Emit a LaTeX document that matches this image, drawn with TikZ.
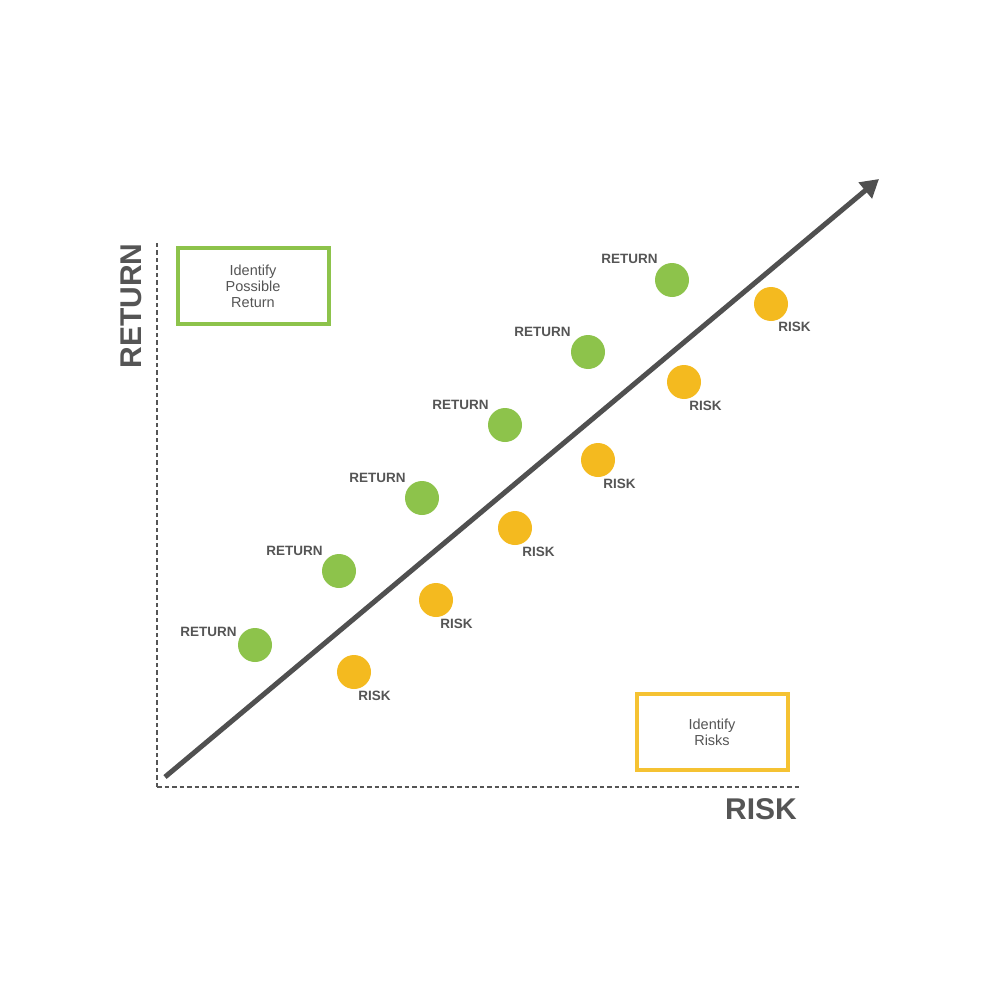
\documentclass[tikz,border=0pt]{standalone}
\usepackage{fontspec}
\setmainfont{Liberation Sans}
\usepackage{tikz}
\usetikzlibrary{positioning,arrows.meta}
\definecolor{ink}{HTML}{555555}
\definecolor{line}{HTML}{505050}
\definecolor{leaf}{HTML}{8DC34B}
\definecolor{gold}{HTML}{F4BA1F}
\definecolor{goldBox}{HTML}{F5C232}
\tikzset{
  axis/.style={dashed, dash pattern=on 4.5pt off 3pt, line width=1.4pt, draw=ink},
  axislabel/.style={font=\fontsize{30}{32}\selectfont\bfseries, text=ink, inner sep=0pt},
  goal/.style={rectangle, line width=4pt, minimum width=151pt, minimum height=76pt,
               align=center, font=\fontsize{14.5}{16}\selectfont, text=ink},
  retdot/.style={circle, fill=leaf, minimum size=34pt, inner sep=0pt},
  riskdot/.style={circle, fill=gold, minimum size=34pt, inner sep=0pt},
  tag/.style={font=\fontsize{13.5}{14}\selectfont\bfseries, text=ink, inner sep=0pt},
  trend/.style={-{Triangle[length=18pt, width=20pt]}, line width=5pt, draw=line}
}
\begin{document}
\begin{tikzpicture}[x=1pt, y=-1pt]
\useasboundingbox (0,0) rectangle (1000,1000);
% axes
\coordinate (origin) at (157,787);
\coordinate (ytop) at (157,243);
\coordinate (xend) at (800,787);
\draw[axis] (origin) -- (ytop);
\draw[axis] (origin) -- (xend);
\node[axislabel, rotate=90] (returnaxis) at (131,306) {RETURN};
\node[axislabel] (riskaxis) at (761,809) {RISK};
% goal boxes
\node[goal, draw=leaf] (possible) at (253,286) {Identify\\Possible\\Return};
\node[goal, draw=goldBox] (risks) at (712,732) {Identify\\Risks};
% trend line
\coordinate (start) at (165,777);
\coordinate (tip) at (879,179);
\draw[trend] (start) -- (tip);
% return dots
\node[retdot] (g1) at (255,645) {};
\node[retdot] (g2) at (339,571) {};
\node[retdot] (g3) at (422,498) {};
\node[retdot] (g4) at (505,425) {};
\node[retdot] (g5) at (588,352) {};
\node[retdot] (g6) at (672,280) {};
\node[tag, above left=-4pt and 6pt of g1] (gt1) {RETURN};
\node[tag, above left=3pt and 4pt of g2] (gt2) {RETURN};
\node[tag, above left=3pt and 4pt of g3] (gt3) {RETURN};
\node[tag, above left=3pt and 4pt of g4] (gt4) {RETURN};
\node[tag, above left=3pt and 5pt of g5] (gt5) {RETURN};
\node[tag, above left=4pt and 2pt of g6] (gt6) {RETURN};
% risk dots
\node[riskdot] (y1) at (354,672) {};
\node[riskdot] (y2) at (436,600) {};
\node[riskdot] (y3) at (515,528) {};
\node[riskdot] (y4) at (598,460) {};
\node[riskdot] (y5) at (684,382) {};
\node[riskdot] (y6) at (771,304) {};
\node[tag, below right=7pt and -8pt of y1] (yt1) {RISK};
\node[tag, below right=7pt and -8pt of y2] (yt2) {RISK};
\node[tag, below right=7pt and -5pt of y3] (yt3) {RISK};
\node[tag, below right=7pt and -7pt of y4] (yt4) {RISK};
\node[tag, below right=7pt and -7pt of y5] (yt5) {RISK};
\node[tag, below right=6pt and -5pt of y6] (yt6) {RISK};
\end{tikzpicture}
\end{document}
